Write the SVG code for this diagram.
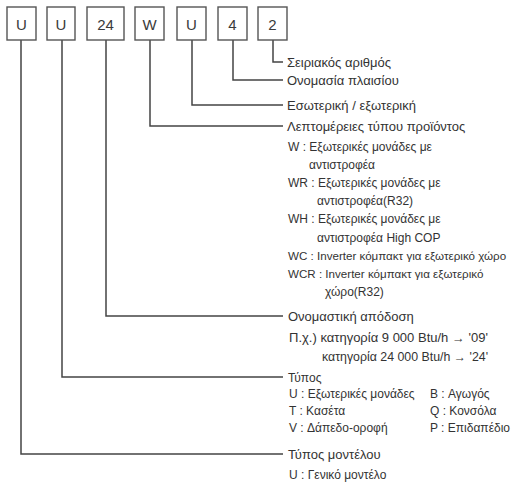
<svg xmlns="http://www.w3.org/2000/svg" width="512" height="487" viewBox="0 0 512 487">
<style>
.box{fill:#fff;stroke:#555;stroke-width:1.4}
.bt{font-family:"Liberation Sans",Arial,sans-serif;font-size:15px;fill:#3a3a3a;text-anchor:middle}
.ln{fill:none;stroke:#444;stroke-width:1.5}
.m{font-family:"Liberation Sans",Arial,sans-serif;font-size:13px;fill:#333}
.t{font-family:"Liberation Sans",Arial,sans-serif;font-size:12px;fill:#333}
.w{font-family:"Liberation Sans",Arial,sans-serif;font-size:11.6px;fill:#333}
</style>
<rect width="512" height="487" fill="#fff"/>
<g id="connectors">
<polyline class="ln" points="273,40 273,62 283,62"/>
<polyline class="ln" points="233,40 233,80 283,80"/>
<polyline class="ln" points="192,40 192,105 283,105"/>
<polyline class="ln" points="150,40 150,126 283,126"/>
<polyline class="ln" points="106,40 106,316 283,316"/>
<polyline class="ln" points="62,40 62,377 283,377"/>
<polyline class="ln" points="21,40 21,454 283,454"/>
</g>
<g id="box1"><rect class="box" x="7" y="7" width="29" height="33"/><text class="bt" x="21.5" y="29.5">U</text></g>
<g id="box2"><rect class="box" x="47" y="7" width="28" height="33"/><text class="bt" x="61" y="29.5">U</text></g>
<g id="box3"><rect class="box" x="87" y="7" width="37" height="33"/><text class="bt" x="105.5" y="29.5">24</text></g>
<g id="box4"><rect class="box" x="135" y="7" width="29" height="33"/><text class="bt" x="149.5" y="29.5">W</text></g>
<g id="box5"><rect class="box" x="177" y="7" width="29" height="33"/><text class="bt" x="191.5" y="29.5">U</text></g>
<g id="box6"><rect class="box" x="218" y="7" width="29" height="33"/><text class="bt" x="232.5" y="29.5">4</text></g>
<g id="box7"><rect class="box" x="258" y="7" width="29" height="33"/><text class="bt" x="272.5" y="29.5">2</text></g>
<g id="serial"><text class="m" x="287" y="66.5">Σειριακός αριθμός</text></g>
<g id="frame"><text class="m" x="287" y="84.5">Ονομασία πλαισίου</text></g>
<g id="inout"><text class="m" x="287" y="109.5">Εσωτερική / εξωτερική</text></g>
<g id="details">
<text class="m" x="287" y="130.5">Λεπτομέρειες τύπου προϊόντος</text>
<text class="t" x="288" y="151">W : Εξωτερικές μονάδες με</text>
<text class="t" x="309" y="169">αντιστροφέα</text>
<text class="t" x="288" y="187">WR : Εξωτερικές μονάδες με</text>
<text class="t" x="317" y="205">αντιστροφέα(R32)</text>
<text class="t" x="288" y="223">WH : Εξωτερικές μονάδες με</text>
<text class="t" x="317" y="242">αντιστροφέα High COP</text>
<text class="w" x="288" y="260">WC : Inverter κόμπακτ για εξωτερικό χώρο</text>
<text class="w" x="288" y="278">WCR : Inverter κόμπακτ για εξωτερικό</text>
<text class="t" x="325" y="296">χώρο(R32)</text>
</g>
<g id="capacity">
<text class="m" x="288" y="321">Ονομαστική απόδοση</text>
<text class="t" x="289" y="342" textLength="199" lengthAdjust="spacingAndGlyphs">Π.χ.) κατηγορία 9 000 Btu/h → '09'</text>
<text class="t" x="322" y="361" textLength="166" lengthAdjust="spacingAndGlyphs">κατηγορία 24 000 Btu/h → '24'</text>
</g>
<g id="type">
<text class="t" x="288" y="381.5">Τύπος</text>
<text class="t" x="289" y="398">U : Εξωτερικές μονάδες</text>
<text class="t" x="289" y="415">T : Κασέτα</text>
<text class="t" x="289" y="432">V : Δάπεδο-οροφή</text>
<text class="t" x="430" y="398">B : Αγωγός</text>
<text class="t" x="430" y="415">Q : Κονσόλα</text>
<text class="t" x="430" y="432">P : Επιδαπέδιο</text>
</g>
<g id="model">
<text class="m" x="288" y="458.5">Τύπος μοντέλου</text>
<text class="t" x="289" y="479">U : Γενικό μοντέλο</text>
</g>
</svg>
